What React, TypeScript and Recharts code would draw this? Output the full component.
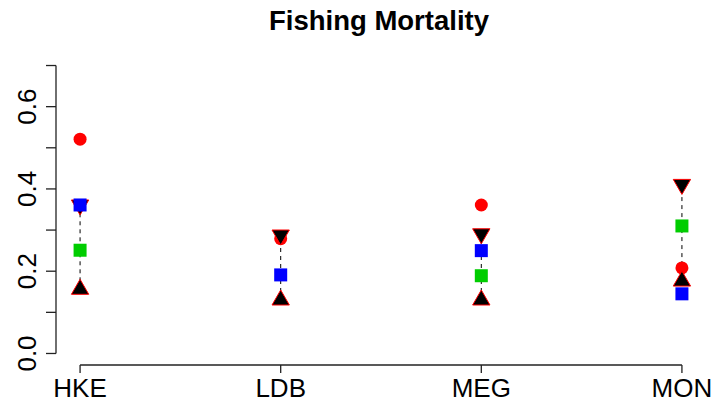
import React from "react";
import { ComposedChart, Scatter, XAxis, YAxis, ReferenceLine } from "recharts";

// stocks on the x axis
const stocks = ["HKE", "LDB", "MEG", "MON"];
// point estimates
const redCircle = [0.521, 0.279, 0.361, 0.208];
const blueSquare = [0.361, 0.191, 0.25, 0.145];
const greenSquare = [0.251, null, 0.189, 0.31];
// range ends (down triangle = upper, up triangle = lower)
const upperTri = [0.361, 0.288, 0.291, 0.411];
const lowerTri = [0.156, 0.13, 0.13, 0.176];

const yTicks = [0, 0.1, 0.2, 0.3, 0.4, 0.5, 0.6, 0.7];
const xTicks = [1, 2, 3, 4];

const FONT = '"Liberation Sans", Arial, sans-serif';
const AXIS = "#222";

const toPoints = (vals: (number | null)[]) =>
  vals
    .map((v, i) => (v == null ? null : { x: i + 1, y: v }))
    .filter((p) => p !== null) as { x: number; y: number }[];

const RedCircle = (p: any) => <circle cx={p.cx} cy={p.cy} r={6.5} fill="#FF0000" />;

const square = (color: string) => (p: any) =>
  <rect x={p.cx - 6.5} y={p.cy - 6.5} width={13} height={13} fill={color} />;

const UpTri = (p: any) => (
  <polygon
    points={`${p.cx},${p.cy - 10} ${p.cx + 8.66},${p.cy + 5} ${p.cx - 8.66},${p.cy + 5}`}
    fill="#000"
    stroke="#FF0000"
    strokeWidth={1}
  />
);

const DownTri = (p: any) => (
  <polygon
    points={`${p.cx},${p.cy + 10} ${p.cx + 8.66},${p.cy - 5} ${p.cx - 8.66},${p.cy - 5}`}
    fill="#000"
    stroke="#FF0000"
    strokeWidth={1}
  />
);

const YTick = (props: any) => {
  const { x, y, payload } = props;
  const v = payload.value;
  const showLabel = Math.round(v * 10) % 2 === 0;
  return (
    <g>
      <line x1={x - 10} x2={x} y1={y} y2={y} stroke={AXIS} strokeWidth={1.3} />
      {showLabel && (
        <text
          x={x - 20}
          y={y}
          transform={`rotate(-90, ${x - 20}, ${y})`}
          textAnchor="middle"
          fontSize={26}
          fontFamily={FONT}
          fill="#000"
        >
          {v.toFixed(1)}
        </text>
      )}
    </g>
  );
};

const XTick = (props: any) => {
  const { x, y, payload } = props;
  return (
    <g>
      <line x1={x} x2={x} y1={y} y2={y + 8} stroke={AXIS} strokeWidth={1.3} />
      <text x={x} y={y + 31.5} textAnchor="middle" fontSize={26} fontFamily={FONT} fill="#000">
        {stocks[payload.value - 1]}
      </text>
    </g>
  );
};

const App = () => {
  return (
    <div style={{ position: "absolute", left: 0, top: 0, width: 714, height: 405, background: "#fff" }}>
      <svg
        width={714}
        height={40}
        style={{ position: "absolute", left: 0, top: 0, pointerEvents: "none" }}
      >
        <text x={379} y={29.5} textAnchor="middle" fontSize={27.5} fontWeight="bold" fontFamily={FONT}>
          Fishing Mortality
        </text>
      </svg>
      <ComposedChart width={714} height={405} margin={{ top: 54, right: 8, bottom: 0, left: 0 }}>
        <XAxis
          type="number"
          dataKey="x"
          domain={[0.88, 4.12]}
          ticks={xTicks}
          interval={0}
          allowDataOverflow
          axisLine={false}
          tickLine={false}
          tickSize={0}
          tickMargin={0}
          height={40}
          tick={XTick}
        />
        <YAxis
          type="number"
          dataKey="y"
          domain={[-0.028, 0.728]}
          ticks={yTicks}
          interval={0}
          allowDataOverflow
          axisLine={false}
          tickLine={false}
          tickSize={0}
          tickMargin={0}
          width={56}
          tick={YTick}
        />
        <ReferenceLine
          segment={[{ x: 0.88, y: 0 }, { x: 0.88, y: 0.7 }]}
          stroke={AXIS}
          strokeWidth={1.3}
          ifOverflow="visible"
        />
        <ReferenceLine
          segment={[{ x: 1, y: -0.028 }, { x: 4, y: -0.028 }]}
          stroke={AXIS}
          strokeWidth={1.3}
          ifOverflow="visible"
        />
        {stocks.map((s, i) => (
          <Scatter
            key={s}
            data={[
              { x: i + 1, y: lowerTri[i] },
              { x: i + 1, y: upperTri[i] },
            ]}
            line={{ stroke: "#000", strokeWidth: 1, strokeDasharray: "4 4" }}
            shape={() => <g />}
            isAnimationActive={false}
          />
        ))}
        <Scatter data={toPoints(redCircle)} shape={RedCircle} isAnimationActive={false} />
        <Scatter data={toPoints(upperTri)} shape={DownTri} isAnimationActive={false} />
        <Scatter data={toPoints(lowerTri)} shape={UpTri} isAnimationActive={false} />
        <Scatter data={toPoints(greenSquare)} shape={square("#00CD00")} isAnimationActive={false} />
        <Scatter data={toPoints(blueSquare)} shape={square("#0000FF")} isAnimationActive={false} />
      </ComposedChart>
    </div>
  );
};

export default App;
